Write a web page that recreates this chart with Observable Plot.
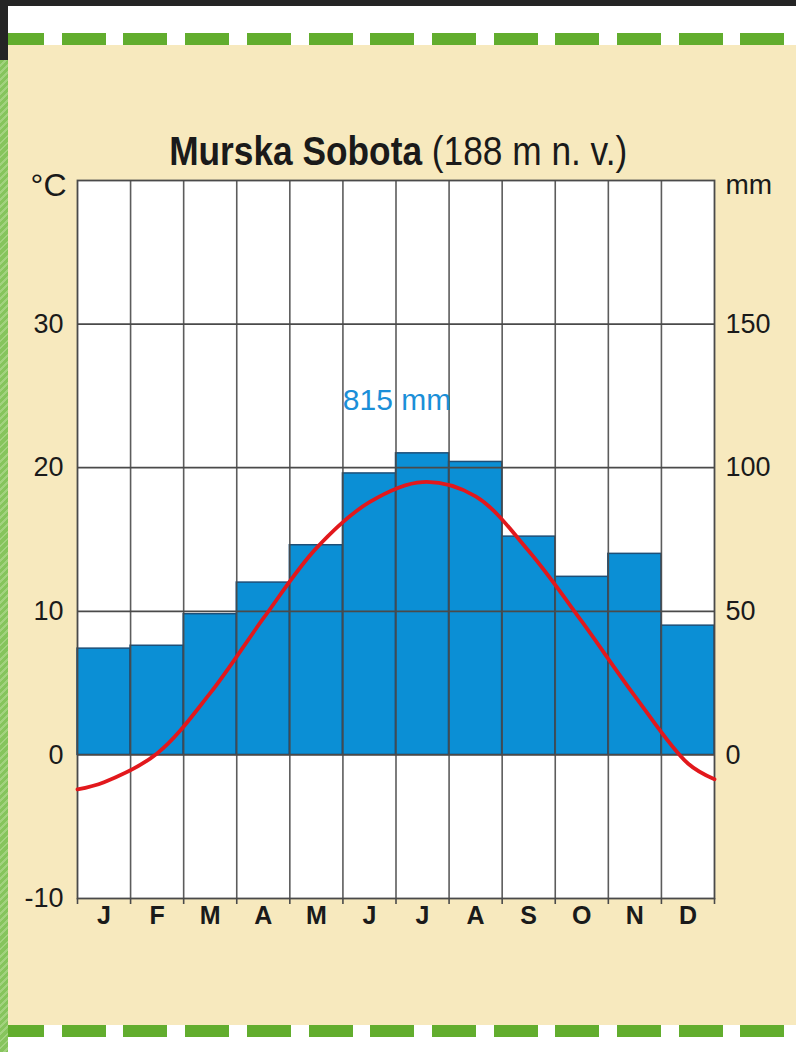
<!DOCTYPE html>
<html><head><meta charset="utf-8">
<script src="https://cdn.jsdelivr.net/npm/d3@7"></script>
<script src="https://cdn.jsdelivr.net/npm/@observablehq/plot@0.6"></script>
<style>
html,body{margin:0;padding:0;}
body{width:796px;height:1052px;position:relative;overflow:hidden;background:#f7e9be;font-family:"Liberation Sans",Arial,sans-serif;color:#1a1a1a;}
.abs{position:absolute;}
#whiteTop{left:0;top:0;width:796px;height:45px;background:#fff;}
#whiteBottom{left:0;top:1025px;width:796px;height:27px;background:#fff;}
.dash{left:0;width:796px;height:12px;background:repeating-linear-gradient(90deg,#62ad2e 0px,#62ad2e 44px,transparent 44px,transparent 61.7px);}
#dashTop{top:33px;}
#dashBottom{top:1025px;}
#topbar{left:0;top:0;width:796px;height:6px;background:#252525;}
#corner{left:0;top:0;width:8px;height:60px;background:#252525;}
#strip{left:0;top:60px;width:8px;height:992px;background:repeating-linear-gradient(135deg,#86c45c 0px,#86c45c 3px,#a2d27e 3px,#a2d27e 5px);}
#title{left:0;top:131px;width:796px;text-align:center;font-size:41px;line-height:1;white-space:nowrap;}
#title span.inner{display:inline-block;transform-origin:50% 50%;}
#chart{left:0;top:160px;}
</style>
</head><body>
<div class="abs" id="whiteTop"></div>
<div class="abs" id="whiteBottom"></div>
<div class="abs dash" id="dashTop"></div>
<div class="abs dash" id="dashBottom"></div>
<div class="abs" id="topbar"></div>
<div class="abs" id="corner"></div>
<div class="abs" id="strip"></div>
<div class="abs" id="title"><span class="inner"><b>Murska Sobota</b> (188 m n. v.)</span></div>
<div class="abs" id="chart"></div>
<script>
// ---- data ----
const months = ["J","F","M","A","M","J","J","A","S","O","N","D"];
const precipitation = [37, 38, 49, 60, 73, 98, 105, 102, 76, 62, 70, 45]; // mm
const temperature = [-1.9, 0.1, 4.3, 9.5, 14.4, 17.6, 19.0, 18.0, 14.2, 9.3, 4.1, -0.6]; // °C at month centres
const tempAtStart = -2.4;  // curve value read at left edge
const tempAtEnd = -1.7;    // curve value read at right edge
const tempTicks = [-10, 0, 10, 20, 30];
const precipTicks = [0, 50, 100, 150];
const totalLabel = "815 mm";

// ---- derived tables ----
const bars = months.map((m, i) => ({i, m, mm: precipitation[i]}));
const curve = [{x: 0, t: tempAtStart}, ...temperature.map((t, i) => ({x: i + 0.5, t})), {x: 12, t: tempAtEnd}];
const gridColor = "#4a4a4a";

const chart = Plot.plot({
  width: 796, height: 800,
  marginLeft: 77, marginRight: 82, marginTop: 20, marginBottom: 62,
  style: {background: "transparent", fontFamily: "'Liberation Sans', Arial, sans-serif", overflow: "visible", color: "#1a1a1a"},
  x: {type: "linear", domain: [0, 12]},
  y: {domain: [-10, 40]},
  marks: [
    Plot.frame({fill: "white"}),
    Plot.rectY(bars, {x1: "i", x2: d => d.i + 1, y1: 0, y2: d => d.mm / 5, fill: "#0b8fd5", stroke: "#1d4f78", strokeWidth: 1.5}),
    Plot.gridY(tempTicks.filter(t => t > -10), {stroke: gridColor, strokeOpacity: 1, strokeWidth: 1.7}),
    Plot.gridX(d3.range(1, 12), {stroke: gridColor, strokeOpacity: 0.9, strokeWidth: 1.6}),
    Plot.frame({stroke: gridColor, strokeWidth: 1.8}),
    Plot.line(curve, {x: "x", y: "t", curve: "catmull-rom", stroke: "#e2181c", strokeWidth: 3.8}),
    Plot.axisY(tempTicks, {anchor: "left", tickSize: 0, tickPadding: 14, fontSize: 27, tickFormat: d => String(d), label: null}),
    Plot.axisY(precipTicks.map(v => v / 5), {anchor: "right", tickSize: 0, tickPadding: 11, fontSize: 27, tickFormat: d => String(d * 5), label: null}),
    Plot.axisX(d3.range(0, 13), {anchor: "bottom", tickSize: 6, tickFormat: () => "", stroke: gridColor, strokeWidth: 1.6, label: null}),
    Plot.axisX(months.map((m, i) => i + 0.5), {anchor: "bottom", tickSize: 0, tickPadding: 8, fontSize: 25, fontWeight: "bold", tickFormat: d => months[Math.floor(d)], label: null}),
    Plot.text([totalLabel], {frameAnchor: "top", dy: 229, lineAnchor: "bottom", fill: "#1b8fd8", fontSize: 30, dx: 1}),
    Plot.text(["°C"], {frameAnchor: "top-left", textAnchor: "end", lineAnchor: "bottom", dx: -11, dy: 15, fontSize: 32}),
    Plot.text(["mm"], {frameAnchor: "top-right", textAnchor: "start", lineAnchor: "bottom", dx: 11, dy: 13, fontSize: 28})
  ]
});
document.getElementById("chart").appendChild(chart);

// fit title to the condensed width of the original
const inner = document.querySelector("#title .inner");
const w = inner.getBoundingClientRect().width;
inner.style.transform = `scaleX(${458 / w})`;
</script>
</body></html>
